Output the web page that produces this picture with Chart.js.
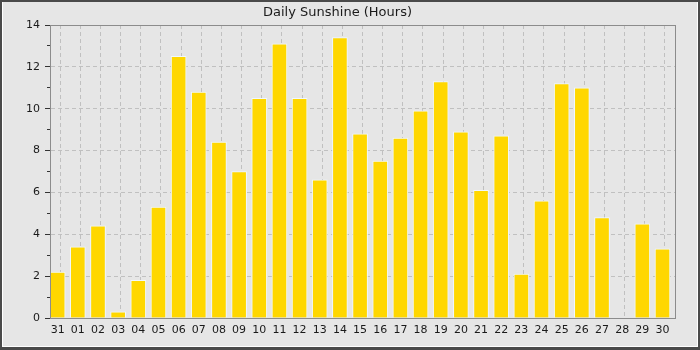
<!DOCTYPE html>
<html>
<head>
<meta charset="utf-8">
<script src="https://cdn.jsdelivr.net/npm/chart.js@4"></script>
<style>
  html, body { margin: 0; padding: 0; background: #4a4a4a; }
  #frame {
    position: absolute; left: 2px; top: 2px; width: 694px; height: 344px;
    background: #e6e6e6;
    border-left: 1px solid #fff; border-right: 1px solid #fff; border-bottom: 1px solid #fff;
  }
  #chartSunshine { position: absolute; left: 0; top: 0; }
</style>
</head>
<body>
<div id="frame"></div>
<canvas id="chartSunshine" width="700" height="350"></canvas>
<script>
const days = ["31", "01", "02", "03", "04", "05", "06", "07", "08", "09", "10",
  "11", "12", "13", "14", "15", "16", "17", "18", "19", "20",
  "21", "22", "23", "24", "25", "26", "27", "28", "29", "30"];
const sunshineHours = [2.2, 3.4, 4.4, 0.3, 1.8, 5.3, 12.5, 10.8, 8.4, 7.0, 10.5,
  13.1, 10.5, 6.6, 13.4, 8.8, 7.5, 8.6, 9.9, 11.3, 8.9,
  6.1, 8.7, 2.1, 5.6, 11.2, 11.0, 4.8, 0, 4.5, 3.3];
const yMax = 14;

Chart.defaults.font.family = "'DejaVu Sans', sans-serif";
Chart.defaults.font.size = 11;
Chart.defaults.color = "#1a1a1a";

// frame round the plot area (top and right sides too)
const plotBox = {
  id: "plotBox",
  afterDraw(chart) {
    const { ctx, chartArea: a } = chart;
    ctx.save();
    ctx.strokeStyle = "#8c8c8c";
    ctx.lineWidth = 1;
    ctx.strokeRect(Math.round(a.left) + 0.5, Math.round(a.top) + 0.5,
      Math.round(a.right - a.left), Math.round(a.bottom - a.top));
    ctx.restore();
  },
};

new Chart(document.getElementById("chartSunshine"), {
  type: "bar",
  data: {
    datasets: [
      {
        label: "Sunshine",
        data: sunshineHours.map((v, i) => ({ x: i, y: v })),
        backgroundColor: "#FFD700",
        borderColor: "#f0f8ff",
        borderWidth: 1,
        barThickness: 15,
        xAxisID: "x",
        yAxisID: "y",
      },
    ],
  },
  options: {
    responsive: false,
    animation: false,
    layout: { padding: { left: 0, right: 25, top: 0, bottom: 0 } },
    plugins: {
      legend: { display: false },
      tooltip: { enabled: false },
      title: {
        display: true,
        text: "Daily Sunshine (Hours)",
        font: { size: 13, weight: "normal", lineHeight: 1.2 },
        color: "#1a1a1a",
        padding: { top: 5, bottom: 4.4 },
      },
    },
    scales: {
      x: {
        type: "linear",
        offset: false,
        min: -0.38,
        max: days.length - 0.38,
        grid: { display: false, drawTicks: false },
        border: { color: "#8c8c8c" },
        afterBuildTicks: (s) => { s.ticks = days.map((_, i) => ({ value: i })); },
        ticks: {
          autoSkip: false,
          maxRotation: 0,
          padding: 6,
          callback: (v) => days[v] ?? "",
        },
        afterFit: (s) => { s.height = 32; },
      },
      // category boundaries, for the vertical grid only
      xg: {
        type: "linear",
        position: "bottom",
        offset: false,
        min: 0,
        max: days.length,
        afterBuildTicks: (s) => { s.ticks = [...days, ""].map((_, i) => ({ value: i })); },
        ticks: { display: false, autoSkip: false },
        grid: { color: "#c0c0c0", drawTicks: false },
        border: { display: false, dash: [4, 3] },
        afterFit: (s) => { s.height = 0; },
      },
      y: {
        min: 0,
        max: yMax,
        ticks: { stepSize: 2, padding: 5 },
        grid: { color: "#c0c0c0", tickColor: "#333", tickLength: 5 },
        border: { color: "#8c8c8c", dash: [4, 3] },
        afterFit: (s) => { s.width = 50; },
      },
      ym: {
        type: "linear",
        position: "left",
        weight: -1,
        min: 0,
        max: yMax,
        ticks: { display: false, stepSize: 1 },
        grid: { drawOnChartArea: false, tickColor: "#333", tickLength: 3 },
        border: { display: false },
        afterFit: (s) => { s.width = 0; },
      },
    },
  },
  plugins: [plotBox],
});
</script>
</body>
</html>
